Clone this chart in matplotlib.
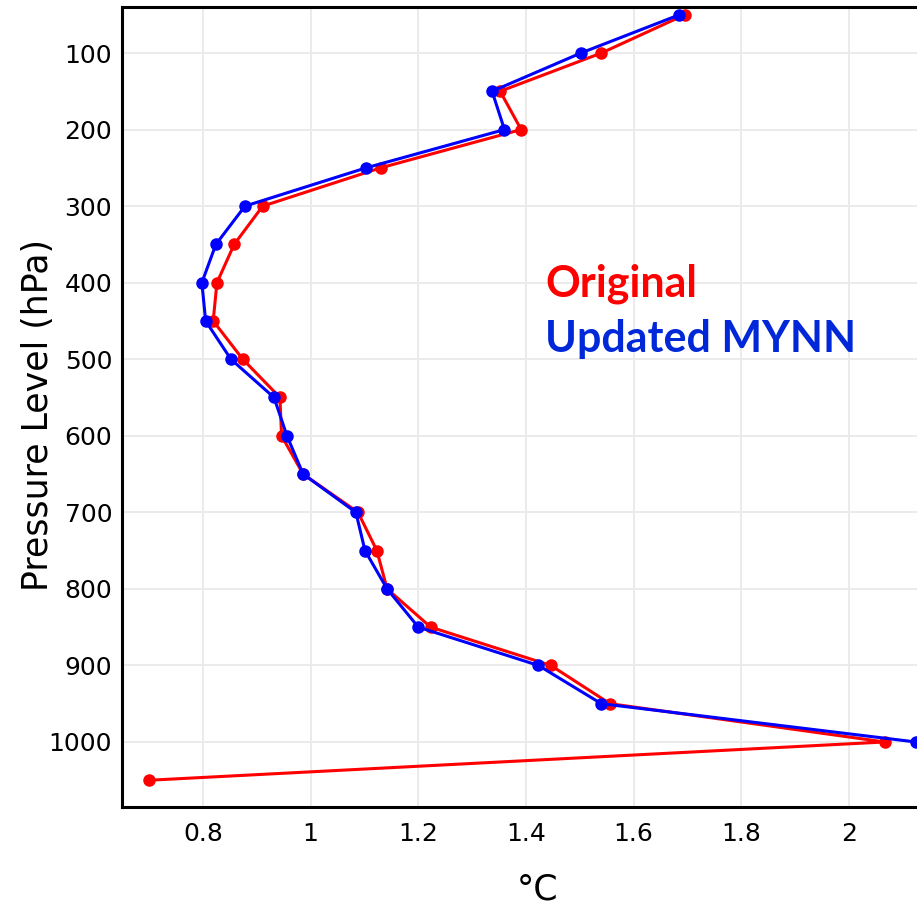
import matplotlib
matplotlib.use('Agg')
import matplotlib.pyplot as plt

# niveles de presion (hPa) y sesgo de temperatura (°C) por experimento
niveles = [50, 100, 150, 200, 250, 300, 350, 400, 450, 500, 550, 600,
           650, 700, 750, 800, 850, 900, 950, 1000, 1050]
original = [1.695, 1.540, 1.352, 1.391, 1.130, 0.911, 0.858, 0.826, 0.819,
            0.874, 0.943, 0.946, 0.986, 1.088, 1.123, 1.142, 1.223, 1.446,
            1.556, 2.066, 0.700]
niveles_mynn = niveles[:-1]
mynn = [1.685, 1.502, 1.337, 1.360, 1.103, 0.878, 0.824, 0.798, 0.805,
        0.852, 0.932, 0.956, 0.986, 1.084, 1.101, 1.142, 1.200, 1.423,
        1.540, 2.124]

ticks_x = [0.8, 1, 1.2, 1.4, 1.6, 1.8, 2]
ticks_y = [100, 200, 300, 400, 500, 600, 700, 800, 900, 1000]

ROJO = '#ff0000'
AZUL = '#0000ff'

fig = plt.figure(figsize=(9.17, 9.11), dpi=100)
ax = fig.add_axes([0.1330, 0.1142, 0.8757, 0.8781])

ax.plot(original, niveles, color=ROJO, lw=2.2, marker='o', ms=8, zorder=3)
ax.plot(mynn, niveles_mynn, color=AZUL, lw=2.2, marker='o', ms=8, zorder=4)

ax.set_xlim(0.6496, 2.141)
ax.set_ylim(1084.9, 39.9)
ax.set_xticks(ticks_x)
ax.set_xticklabels(['0.8', '1', '1.2', '1.4', '1.6', '1.8', '2'])
ax.set_yticks(ticks_y)

ax.grid(True, color='#ebebeb', lw=1.4)
ax.set_axisbelow(True)
ax.tick_params(axis='both', length=0, labelsize=18)
ax.tick_params(axis='y', pad=7)
ax.tick_params(axis='x', pad=11)
for lado in ax.spines.values():
    lado.set_linewidth(2.2)
    lado.set_color('black')

fig.text(0.041, 0.545, 'Pressure Level (hPa)', rotation=90, fontsize=25,
         ha='center', va='center')
fig.text(0.586, 1 - 890 / 911, '°C', fontsize=25, ha='center', va='center')

# etiquetas de las series dentro del grafico
fig.text(545 / 917, 1 - 297 / 911, 'Original', color=ROJO, fontsize=31,
         fontweight='bold', family='Lato', ha='left', va='baseline')
fig.text(545 / 917, 1 - 352 / 911, 'Updated MYNN', color='#0028d8', fontsize=31,
         fontweight='bold', family='Lato', ha='left', va='baseline')

fig.savefig('out.png', dpi=100)
